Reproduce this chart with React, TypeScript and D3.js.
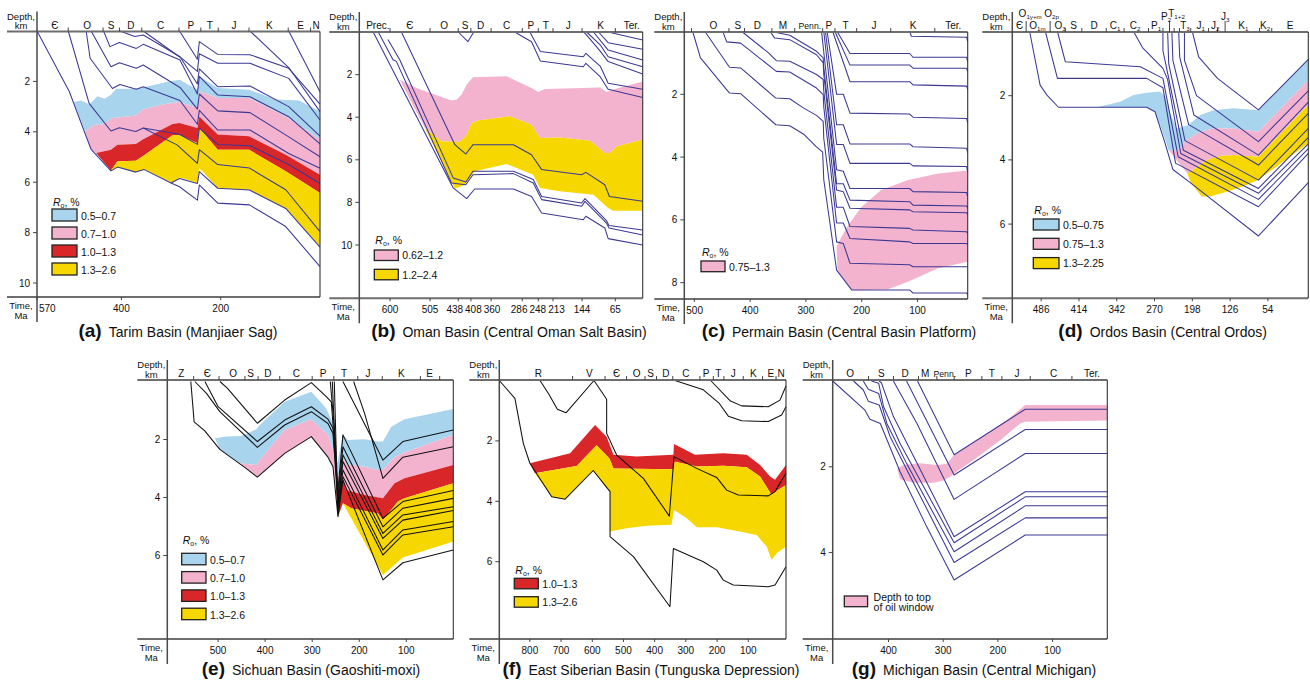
import React from "react";
import * as d3 from "d3";

type Pt = [number, number];

const BLUE = "#a8d4ed";
const PINK = "#f3b3cf";
const RED = "#d92628";
const YELLOW = "#f7d700";
const NAVY = "#3b3993";
const INK = "#111111";
const FONT = "'Liberation Sans', Arial, Helvetica, sans-serif";

// ---------- (a) Tarim Basin ----------
const aPeriods: [string, number, number?][] = [["Є", 534], ["O", 469], ["S", 421], ["D", 381], ["C", 321], ["P", 260], ["T", 222], ["J", 173], ["K", 102], ["E", 39], ["N", 8]];
const aBounds = [507, 437, 404, 359, 284, 240, 205, 143, 64, 19];
const aTimeTicks = [570, 400, 200];
const aDepthTicks = [2, 4, 6, 8, 10];
const aLines: Pt[][] = [
  [[570, 0], [505, 2.4], [461, 4.7], [421, 5.55], [408, 5.4], [371, 5.6], [354, 5.5], [300, 6.03], [283, 6.18], [247, 6.71], [243, 6.11], [206, 6.83], [142, 6.9], [69, 7.76], [0, 9.35]],
  [[300, 6.03], [283, 5.85], [247, 6.05], [243, 5.58], [206, 6.24], [142, 6.31], [69, 7.04], [0, 8.58]],
  [[507, 0], [465, 2.87], [421, 3.97], [404, 3.84], [371, 3.99], [356, 3.85], [288, 4.52], [247, 5.25], [243, 4.71], [206, 5.3], [142, 5.44], [69, 6.3], [0, 7.96]],
  [[356, 3.85], [283, 4.1], [247, 4.5], [243, 3.85], [206, 4.5], [141, 4.55], [63, 5.3], [0, 6.05]],
  [[471, 0], [463, 1.08], [418, 2.28], [403, 2.12], [370, 2.31], [356, 2.21], [282, 2.76], [247, 3.7], [243, 3.15], [206, 3.93], [141, 3.93], [63, 4.86], [0, 5.45]],
  [[461, 0], [421, 1.42], [404, 1.26], [370, 1.48], [356, 1.35], [282, 2.24], [247, 3.1], [243, 2.5], [206, 3.17], [141, 3.24], [63, 4.2], [0, 4.99]],
  [[436, 0], [423, 0.62], [404, 0.46], [370, 0.69], [356, 0.53], [282, 1.15], [247, 2.5], [243, 1.8], [206, 2.54], [141, 2.61], [63, 3.4], [0, 4.48]],
  [[403, 0], [373, 0.22], [356, 0.16], [282, 1.02], [247, 2.1], [243, 1.5], [206, 2.21], [141, 2.18], [63, 3.0], [0, 4.17]],
  [[356, 0], [279, 1.08], [247, 1.6], [243, 0.9], [206, 1.28], [141, 1.28], [63, 1.88], [0, 3.53]],
  [[283, 0], [247, 1.12], [243, 0.42], [206, 0.93], [141, 0.94], [63, 1.48], [0, 2.9]],
  [[141, 0], [63, 1.45], [0, 3.2]],
  [[63, 0], [0, 2.41]],
];
const aEdgeBlueTop: Pt[] = [[496, 2.82], [481, 2.76], [465, 2.92], [448, 2.59], [434, 2.69], [421, 2.53], [411, 2.29], [371, 2.29], [357, 2.24], [304, 2.0], [283, 1.93], [247, 2.33], [243, 1.8], [206, 2.26], [143, 2.33], [89, 2.72], [42, 2.76], [0, 3.19]];
const aEdgeBluePink: Pt[] = [[473, 3.98], [455, 3.72], [438, 3.72], [418, 3.45], [408, 3.43], [371, 3.35], [357, 3.12], [317, 2.92], [283, 2.82], [247, 3.06], [243, 2.39], [206, 2.66], [143, 2.66], [69, 3.39], [0, 4.3]];
const aEdgePinkRed: Pt[] = [[451, 4.84], [421, 4.71], [408, 4.51], [371, 4.48], [357, 4.31], [297, 3.69], [283, 3.65], [247, 3.85], [243, 3.39], [206, 4.11], [143, 4.18], [69, 4.91], [0, 5.7]];
const aEdgeRedYellow: Pt[] = [[421, 5.54], [408, 5.17], [371, 5.15], [354, 4.93], [297, 4.14], [283, 4.14], [247, 4.44], [243, 3.85], [206, 4.71], [143, 4.71], [69, 5.57], [0, 6.43]];
const aEdgeYellowBottom: Pt[] = [[421, 5.57], [408, 5.41], [371, 5.6], [354, 5.5], [298, 6.03], [283, 5.81], [247, 6.03], [243, 5.44], [206, 6.23], [143, 6.31], [69, 7.04], [0, 8.54]];
const aLegend = ["0.5–0.7", "0.7–1.0", "1.0–1.3", "1.3–2.6"];

// ---------- (b) Oman Basin ----------
const bPeriods: [string, number, number?][] = [["Prec.", 629], ["Є", 553], ["O", 471.5], ["S", 422], ["D", 385], ["C", 323], ["P", 265.5], ["T", 230], ["J", 177], ["K", 100], ["Ter.", 26]];
const bBounds = [600, 505, 438, 408, 360, 286, 248, 213, 144, 65];
const bTimeTicks = [600, 505, 438, 408, 360, 286, 248, 213, 144, 65];
const bDepthTicks = [2, 4, 6, 8, 10];
const bLines: Pt[][] = [
  [[640, 0], [450, 7.32], [418, 7.82], [399, 7.37], [307, 7.37], [264, 7.72], [240, 8.5], [141, 8.81], [135, 8.65], [90, 9.2], [82, 9.7], [0, 10.0]],
  [[628, 0], [593, 1.3], [585, 1.38], [454, 7.09], [420, 7.17], [403, 6.7], [307, 6.65], [260, 7.09], [240, 7.87], [145, 8.18], [137, 7.95], [86, 8.97], [80, 9.2], [0, 9.53]],
  [[605, 0.35], [577, 1.3], [450, 6.85], [420, 7.04], [403, 6.54], [307, 6.54], [260, 6.93], [240, 7.72], [145, 8.03], [137, 7.82], [86, 8.86], [80, 9.08], [0, 9.3]],
  [[573, 0], [446, 5.29], [420, 5.73], [403, 5.29], [307, 5.29], [264, 5.76], [240, 6.46], [145, 6.7], [135, 6.59], [90, 7.17], [79, 7.72], [0, 7.95]],
  [[438, 0], [415, 0.45], [401, 0]],
  [[304, 0], [264, 0.46], [243, 1.36], [141, 1.63], [135, 1.47], [101, 2.1], [82, 2.69], [0, 3.07]],
  [[268, 0], [243, 0.92], [141, 1.16], [135, 1.0], [101, 1.6], [82, 2.41], [0, 2.69]],
  [[141, 0], [135, 0.1], [101, 0.9], [82, 1.39], [0, 1.97]],
  [[133, 0], [101, 0.6], [82, 1.16], [0, 1.63]],
  [[117, 0], [82, 0.85], [0, 1.31]],
  [[105, 0], [82, 0.5], [0, 0.81]],
  [[82, 0], [0, 0.38]],
];
const bEdgePinkTop: Pt[] = [[577, 2.24], [533, 2.66], [454, 3.22], [442, 3.18], [430, 2.94], [418, 2.47], [403, 2.13], [323, 2.08], [264, 2.63], [248, 2.82], [232, 2.68], [101, 2.6], [86, 2.82], [70, 2.7], [0, 2.32]];
const bEdgePinkYellow: Pt[] = [[517, 4.51], [478, 5.13], [434, 5.16], [418, 4.82], [406, 4.27], [391, 4.16], [315, 3.96], [264, 4.35], [244, 4.98], [197, 4.95], [125, 5.1], [90, 5.68], [78, 5.68], [62, 5.37], [0, 5.05]];
const bEdgeYellowBottom: Pt[] = [[517, 4.51], [446, 7.36], [422, 7.17], [399, 6.54], [323, 6.2], [260, 6.7], [244, 7.32], [197, 7.48], [117, 7.64], [82, 8.26], [70, 8.39], [0, 8.39]];
const bLegend = ["0.62–1.2", "1.2–2.4"];

// ---------- (c) Permian Basin ----------
const cPeriods: [string, number, number?][] = [["O", 466], ["S", 422], ["D", 387], ["M", 341], ["Penn.", 293], ["P", 259], ["T", 229], ["J", 178], ["K", 108], ["Ter.", 36]];
const cBounds = [505, 438, 410, 361, 320, 270, 248, 209, 148, 69];
const cTimeTicks = [500, 400, 300, 200, 100];
const cDepthTicks = [2, 4, 6, 8];
const cLines: Pt[][] = [
  [[114, 0], [111, 0.15], [12, 0.18], [10, 0.32]],
  [[244, 0], [221, 0.7], [114, 0.7], [108, 0.82], [12, 0.82], [10, 0.96]],
  [[248, 0], [221, 1.07], [114, 1.07], [108, 1.17], [12, 1.17], [10, 1.28]],
  [[252, 0], [221, 1.6], [114, 1.6], [108, 1.7], [12, 1.74], [10, 1.84]],
  [[262, 0], [245, 2.0], [233, 2.0], [221, 2.6], [114, 2.63], [108, 2.73], [12, 2.77], [10, 2.9]],
  [[265, 0], [245, 2.97], [233, 2.97], [221, 3.58], [114, 3.58], [108, 3.67], [12, 3.72], [10, 3.86]],
  [[268, 0], [245, 3.6], [233, 3.6], [221, 4.2], [114, 4.2], [108, 4.28], [12, 4.3], [10, 4.46]],
  [[272, 0], [245, 4.4], [233, 4.45], [221, 5.0], [114, 5.0], [108, 5.1], [12, 5.13], [10, 5.26]],
  [[362, 0], [329, 0.12], [281, 0.63], [269, 0.84], [268, 1.14], [245, 4.85], [233, 4.85], [221, 5.37], [114, 5.42], [108, 5.53], [12, 5.56], [10, 5.63]],
  [[364, 0], [356, 0.21], [329, 0.26], [281, 0.74], [269, 1.0], [268, 1.37], [245, 5.05], [233, 5.1], [221, 5.63], [114, 5.68], [108, 5.74], [12, 5.77], [10, 5.84]],
  [[415, 0], [367, 0.68], [353, 0.93], [329, 0.95], [281, 1.37], [269, 1.53], [268, 1.9], [245, 5.6], [233, 5.6], [221, 6.21], [114, 6.27], [108, 6.32], [12, 6.38], [10, 6.43]],
  [[449, 0], [442, 0.33], [417, 0.37], [353, 1.27], [329, 1.29], [281, 1.8], [269, 2.01], [268, 2.4], [245, 6.1], [233, 6.1], [221, 6.59], [114, 6.7], [108, 6.75], [12, 6.75], [10, 6.8]],
  [[481, 0], [437, 1.14], [417, 1.16], [354, 2.12], [329, 2.14], [304, 2.44], [281, 2.67], [269, 2.86], [268, 3.4], [245, 6.7], [233, 6.75], [221, 7.38], [114, 7.43], [108, 7.49], [12, 7.49], [10, 7.5]],
  [[503, 0], [489, 0.84], [437, 1.96], [417, 1.98], [354, 2.97], [329, 3.0], [304, 3.27], [282, 3.66], [270, 3.84], [268, 4.72], [245, 7.6], [218, 8.23], [114, 8.23], [108, 8.33], [12, 8.33], [10, 8.39]],
];
const cPinkTop: Pt[] = [[245, 6.85], [233, 6.43], [224, 6.16], [200, 5.58], [165, 5.05], [117, 4.73], [63, 4.52], [10, 4.43]];
const cPinkBottom: Pt[] = [[245, 6.85], [243.5, 7.6], [218, 8.23], [153, 8.21], [117, 7.97], [63, 7.54], [10, 7.33]];
const cLegend = ["0.75–1.3"];

// ---------- (d) Ordos Basin ----------
const dPeriods: [string, number, number?][] = [["Є", 527], ["O_1y+m", 507, 1], ["O_1m", 493], ["O_2p", 466, 1], ["O_3", 450], ["S", 424], ["D", 385], ["C_1", 345], ["C_2", 307], ["P_1", 267], ["P_2", 248, 2], ["T_1+2", 228, 1], ["T_3", 212], ["J_1", 182], ["J_2", 154.5], ["J_3", 135.5, 2], ["K_1", 100.6], ["K_2", 59.3], ["E", 11.6]];
const dBounds = [440, 408.5, 362, 328, 281.5, 254, 232.6, 222.5, 201, 167, 150, 70, 46.6];
const dTallBounds = [514.6, 468.9, 241.5, 135.5];
const dTimeTicks = [486, 414, 342, 270, 198, 126, 54];
const dDepthTicks = [2, 4, 6];
const dLines: Pt[][] = [
  [[198, 0], [186, 0.79], [150, 1.46], [72, 2.44], [-23, 0.87]],
  [[213, 0], [213, 0.9], [190, 2.0], [72, 3.43], [-23, 1.85]],
  [[224, 0], [222, 0.8], [195, 2.6], [72, 3.85], [-23, 2.2]],
  [[237, 0], [235, 0.9], [205, 2.9], [72, 4.16], [-23, 2.55]],
  [[245, 0], [243, 1.0], [212, 3.4], [72, 4.63], [-23, 3.02]],
  [[254, 0], [254, 0.6], [245, 1.3], [215, 3.7], [72, 4.89], [-23, 3.3]],
  [[310, 0], [293, 0.5], [254, 1.15], [245, 1.5], [220, 3.8], [72, 5.04], [-23, 3.5]],
  [[455, 0], [440, 0.94], [297, 1.1], [254, 1.46], [225, 3.9], [72, 5.23], [-23, 3.65]],
  [[478, 0], [455, 1.46], [285, 1.46], [254, 1.75], [230, 4.1], [72, 5.46], [-23, 3.8]],
  [[508, 0], [488, 1.67], [475, 1.98], [453, 2.36], [285, 2.36], [269, 2.5], [250, 3.48], [235, 4.3], [202, 4.71], [72, 6.37], [-23, 4.71]],
];
const dBlueTop: Pt[] = [[380, 2.36], [335.5, 2.19], [310, 1.98], [284.7, 1.91], [259.3, 1.87], [249.8, 2.03], [240, 2.55], [227.6, 3.02], [205.3, 2.91], [183, 2.6], [157.7, 2.45], [119.6, 2.39], [72, 2.45], [-23, 0.87]];
const dBlueBottom: Pt[] = [[380, 2.36], [284.7, 2.36], [268.8, 2.5], [256, 3.07], [243.4, 3.69], [227.6, 3.74], [208.5, 3.38], [183, 3.12], [157.7, 3.02], [119.6, 3.02], [72, 3.12], [-23, 1.51]];
const dPinkBottom: Pt[] = [[243.4, 3.69], [207.2, 4.42], [195.8, 4.31], [170.4, 4.0], [145, 3.88], [119.6, 3.85], [72, 3.9], [-23, 2.29]];
const dYellowBottom: Pt[] = [[207.2, 4.42], [200.9, 4.71], [180, 5.14], [164, 5.14], [132.3, 4.99], [94.2, 4.78], [72, 4.62], [-23, 3.48]];
const dLegend = ["0.5–0.75", "0.75–1.3", "1.3–2.25"];

// ---------- (e) Sichuan Basin ----------
const ePeriods: [string, number, number?][] = [["Z", 578], ["Є", 523], ["O", 468], ["S", 431], ["D", 394], ["C", 333.5], ["P", 277], ["T", 232.5], ["J", 181.5], ["K", 110.6], ["E", 50.5]];
const eBounds = [552, 498, 443, 415, 369, 300, 254, 203, 151, 70, 29];
const eTimeTicks = [500, 400, 300, 200, 100];
const eDepthTicks = [2, 4, 6];
const eLines: Pt[][] = [
  [[496, 0], [480, 0.24], [416.5, 1.44], [358.4, 0.64], [301.8, 0.04], [270, 0.52], [259.4, 0.7], [245.2, 3.74], [234.6, 1.84], [149.6, 4.72], [107.2, 4.14], [0, 3.76]],
  [[528, 0], [500, 0.87], [416.5, 2.07], [358.4, 1.33], [301.8, 0.87], [266.4, 1.3], [255.8, 1.61], [245.2, 3.97], [234.6, 2.25], [149.6, 5.01], [107.2, 4.37], [0, 4.03]],
  [[549.5, 0], [524.7, 0.41], [496.4, 1.04], [416.5, 2.27], [358.4, 1.5], [301.8, 1.04], [266.4, 1.45], [255.8, 1.79], [245.2, 4.2], [234.6, 2.53], [149.6, 5.24], [107.2, 4.6], [0, 4.32]],
  [[558, 0], [551, 1.39], [528.3, 1.7], [496.4, 2.34], [443.4, 2.96], [416.5, 3.3], [358.4, 2.48], [301.8, 1.9], [266.4, 2.61], [255.8, 2.94], [245.2, 4.66], [234.6, 3.4], [149.6, 6.84], [107.2, 6.25], [0, 5.81]],
  [[261.5, 0], [250.9, 2.0], [245.2, 4.3], [234.6, 2.76], [149.6, 5.41], [107.2, 4.78], [0, 4.45]],
  [[257.2, 0], [245.2, 4.5], [234.6, 3.05], [149.6, 5.81], [107.2, 5.12], [0, 4.83]],
  [[253, 0], [245.2, 4.55], [234.6, 3.28], [149.6, 5.98], [107.2, 5.29], [0, 5.01]],
  [[234.6, 0], [149.6, 2.71], [107.2, 2.07], [0, 1.67]],
  [[211.9, 0], [188.6, 1.1], [149.6, 3.34], [107.2, 2.61], [0, 2.25]],
];
const eBlueTop: Pt[] = [[507, 1.96], [482.3, 1.9], [450.4, 1.88], [418.6, 1.65], [411.5, 1.5], [358.4, 0.7], [301.8, 0.35], [270, 0.93], [255.8, 1.44], [246.6, 2.82], [234.6, 1.84], [224, 2.02], [188.6, 1.99], [160.3, 2.07], [149.6, 2.07], [132, 1.56], [103.7, 1.3], [0, 0.95]];
const eBluePink: Pt[] = [[454, 2.82], [418.6, 2.88], [408, 2.65], [358.4, 1.67], [301.8, 1.3], [266.4, 1.84], [255.8, 2.36], [246.6, 3.4], [234.6, 2.59], [227.5, 2.85], [188.6, 2.94], [160.3, 3.05], [149.6, 3.05], [124.9, 2.61], [103.7, 2.45], [0, 1.84]];
const ePinkRed: Pt[] = [[248.7, 3.86], [234.6, 3.34], [227.5, 3.74], [188.6, 3.91], [149.6, 4.03], [124.9, 3.51], [103.7, 3.34], [0, 2.88]];
const eRedYellow: Pt[] = [[234.6, 4.2], [216.9, 4.37], [160.3, 4.55], [149.6, 4.78], [117.8, 4.14], [103.7, 4.03], [0, 3.51]];
const eYellowBottom: Pt[] = [[234.6, 4.2], [149.6, 6.67], [107.2, 6.07], [0, 5.52]];
const ePinkLeftBottom: Pt[] = [[454, 2.82], [443.4, 2.96], [416.5, 3.3], [358.4, 2.48], [301.8, 1.9], [266.4, 2.61], [255.8, 2.94]];
const eLegend = ["0.5–0.7", "0.7–1.0", "1.0–1.3", "1.3–2.6"];

// ---------- (f) East Siberian Basin ----------
const fPeriods: [string, number, number?][] = [["R", 773], ["V", 609], ["Є", 522], ["O", 458], ["S", 413], ["D", 364], ["C", 300], ["P", 235.5], ["T", 196], ["J", 148], ["K", 84], ["E", 28], ["N", -5]];
const fBounds = [663, 559, 490, 431, 394, 342, 255, 212, 178, 116, 54, 11];
const fTimeTicks = [800, 700, 600, 500, 400, 300, 200, 100];
const fDepthTicks = [2, 4, 6];
const fLines: Pt[][] = [
  [[898, 0], [848, 0.59], [821, 2.08], [800, 2.74], [730, 3.85], [687, 3.93], [597, 2.98], [543, 3.68], [543, 5.17], [468, 5.83], [351, 7.49], [340, 5.56], [244, 6.0], [201, 6.28], [180, 6.61], [148, 6.77], [36, 6.83], [14, 6.77], [-21, 6.17]],
  [[767.5, 0], [737.6, 0.48], [712, 0.95], [684.2, 1.07], [594.5, 0], [553.9, 0.62], [553.9, 1.75], [521.8, 2.47], [436.3, 3.24], [353, 4.49], [338, 2.52], [265.4, 2.91], [201.3, 3.21], [169.2, 3.63], [131.9, 3.79], [35.7, 3.82], [14.3, 3.68], [-21, 3.07]],
  [[334.8, 0], [244, 0.31], [192.7, 0.76], [163.9, 1.18], [121.2, 1.33], [35.7, 1.36], [-7, 1.14], [-21, 0.87]],
  [[220.5, 0], [158.6, 0.67], [121.2, 0.84], [35.7, 0.87], [-1.7, 0.65], [-21, 0.18]],
];
const fRedTop: Pt[] = [[800, 2.74], [671, 2.41], [591, 1.47], [554, 1.86], [532, 2.46], [458, 2.52], [340, 2.46], [338, 2.1], [271, 2.46], [180, 2.41], [105, 2.46], [62, 2.8], [30, 3.18], [14, 3.29], [-21, 2.8]];
const fRedYellow: Pt[] = [[784, 3.07], [650, 2.83], [586, 2.14], [545, 2.58], [532, 2.91], [340, 2.94], [335, 2.69], [265, 2.85], [180, 2.82], [105, 2.87], [62, 3.18], [25, 3.79], [14, 3.68], [-21, 3.46]];
const fYellowBottom: Pt[] = [[784, 3.07], [730, 3.85], [687, 3.93], [597, 2.98], [554, 3.57], [543, 3.68], [543, 5.0], [490, 4.89], [426, 4.81], [346, 4.78], [338, 4.29], [297, 4.56], [265, 4.86], [201, 4.86], [127, 5.0], [73, 5.12], [41, 5.5], [25, 5.94], [9, 5.72], [-21, 5.5]];
const fLegend = ["1.0–1.3", "1.3–2.6"];

// ---------- (g) Michigan Basin ----------
const gPeriods: [string, number, number?][] = [["O", 470], ["S", 413], ["D", 369.5], ["M", 333], ["Penn.", 297], ["P", 254], ["T", 211], ["J", 165], ["C", 98], ["Ter.", 28]];
const gBounds = [436.6, 390.9, 345.2, 311.6, 279.9, 229.3, 192.7, 140.9, 64.7];
const gTimeTicks = [400, 300, 200, 100];
const gDepthTicks = [2, 4];
const gLines: Pt[][] = [
  [[502, 0], [443, 0.68], [434, 0.89], [415, 0.99], [379, 2.11], [330, 3.4], [280, 4.64], [150, 3.59], [0, 3.59]],
  [[464, 0], [446, 0.21], [437, 0.47], [417, 0.56], [397, 1.3], [360, 2.23], [280, 4.23], [150, 3.19], [0, 3.19]],
  [[446, 0], [437, 0.19], [418, 0.29], [403, 0.99], [367, 1.92], [280, 3.98], [150, 2.91], [0, 2.91]],
  [[431, 0], [418, 0.05], [409, 0.6], [379, 1.45], [280, 3.77], [150, 2.7], [0, 2.7]],
  [[417, 0], [413, 0.04], [391, 0.83], [354, 1.76], [280, 3.63], [150, 2.58], [0, 2.58]],
  [[391, 0], [348, 0.99], [280, 2.76], [150, 1.69], [0, 1.69]],
  [[367, 0], [280, 2.19], [150, 1.13], [0, 1.13]],
  [[347, 0], [280, 1.72], [150, 0.66], [0, 0.66]],
];
const gPinkTop: Pt[] = [[383.6, 2.04], [372.6, 1.96], [342.1, 1.92], [311.6, 1.96], [293.3, 1.93], [279.9, 1.72], [256.8, 1.53], [220.2, 1.22], [183.6, 0.91], [150, 0.56], [0, 0.56]];
const gPinkBottom: Pt[] = [[383.6, 2.07], [378.7, 2.29], [354.3, 2.37], [317.7, 2.37], [299.4, 2.32], [287.2, 2.23], [275, 2.11], [244.6, 1.84], [195.8, 1.38], [159.2, 0.99], [150, 0.95], [0, 0.92]];
const gLegend = ["Depth to top\nof oil window"];

interface Band { color: string; top: Pt[]; bottom: Pt[] }
interface Legend { x: number; y: number; w: number; h: number; gap: number; ty?: number; items: [string, string][] }
interface PanelCfg {
  letter: string; title: string; titleX: number; titleY: number;
  x0: number; x1: number; top: number; y0: number; y1: number; kmPx: number; t0: number; t1: number;
  periods: [string, number, number?][]; bounds: number[]; tall?: number[];
  timeTicks: number[]; depthTicks: number[];
  lines: Pt[][]; lineColor: string; bands: Band[]; legend: Legend;
}

const panels: PanelCfg[] = [
  {
    letter: "a", title: "Tarim Basin (Manjiaer Sag)", titleX: 178, titleY: 336.5,
    x0: 37, x1: 320, top: 31.5, y0: 31, y1: 297, kmPx: 25.2, t0: 570, t1: 0,
    periods: aPeriods, bounds: aBounds, timeTicks: aTimeTicks, depthTicks: aDepthTicks,
    lines: aLines, lineColor: NAVY,
    bands: [
      { color: BLUE, top: aEdgeBlueTop, bottom: [[496, 2.82], ...aEdgeBluePink] },
      { color: PINK, top: aEdgeBluePink, bottom: [[473, 3.98], [461, 4.71], ...aEdgePinkRed] },
      { color: RED, top: aEdgePinkRed, bottom: [[451, 4.84], ...aEdgeRedYellow] },
      { color: YELLOW, top: aEdgeRedYellow, bottom: aEdgeYellowBottom },
    ],
    legend: { x: 52, y: 209, w: 25, h: 12, gap: 18, ty: 205.5, items: [[BLUE, aLegend[0]], [PINK, aLegend[1]], [RED, aLegend[2]], [YELLOW, aLegend[3]]] },
  },
  {
    letter: "b", title: "Oman Basin (Central Oman Salt Basin)", titleX: 509, titleY: 336.5,
    x0: 359.3, x1: 642.7, top: 32, y0: 32, y1: 298.3, kmPx: 21.3, t0: 673, t1: 0,
    periods: bPeriods, bounds: bBounds, timeTicks: bTimeTicks, depthTicks: bDepthTicks,
    lines: bLines, lineColor: NAVY,
    bands: [
      { color: PINK, top: bEdgePinkTop, bottom: [[577, 2.24], ...bEdgePinkYellow] },
      { color: YELLOW, top: bEdgePinkYellow, bottom: bEdgeYellowBottom },
    ],
    legend: { x: 374.3, y: 250, w: 24, h: 10.5, gap: 19.3, ty: 244, items: [[PINK, bLegend[0]], [YELLOW, bLegend[1]]] },
  },
  {
    letter: "c", title: "Permain Basin (Central Basin Platform)", titleX: 839, titleY: 336.5,
    x0: 684.3, x1: 967.7, top: 32, y0: 31.5, y1: 299, kmPx: 31.4, t0: 518, t1: 10,
    periods: cPeriods, bounds: cBounds, timeTicks: cTimeTicks, depthTicks: cDepthTicks,
    lines: cLines, lineColor: NAVY,
    bands: [{ color: PINK, top: cPinkTop, bottom: cPinkBottom }],
    legend: { x: 701, y: 261, w: 24, h: 10.7, gap: 19, ty: 255.5, items: [[PINK, cLegend[0]]] },
  },
  {
    letter: "d", title: "Ordos Basin (Central Ordos)", titleX: 1162.7, titleY: 336.5,
    x0: 1012.3, x1: 1308.3, top: 32, y0: 31.5, y1: 298.3, kmPx: 32.1, t0: 541, t1: -23,
    periods: dPeriods, bounds: dBounds, tall: dTallBounds, timeTicks: dTimeTicks, depthTicks: dDepthTicks,
    lines: dLines, lineColor: NAVY,
    bands: [
      { color: BLUE, top: dBlueTop, bottom: dBlueBottom },
      { color: PINK, top: dBlueBottom.slice(4), bottom: dPinkBottom },
      { color: YELLOW, top: dPinkBottom.slice(1), bottom: dYellowBottom },
    ],
    legend: { x: 1033.3, y: 219, w: 25.7, h: 11, gap: 19.3, ty: 213.7, items: [[BLUE, dLegend[0]], [PINK, dLegend[1]], [YELLOW, dLegend[2]]] },
  },
  {
    letter: "e", title: "Sichuan Basin (Gaoshiti-moxi)", titleX: 311, titleY: 675,
    x0: 167.3, x1: 453.3, top: 380, y0: 381.5, y1: 639, kmPx: 29, t0: 608, t1: 0,
    periods: ePeriods, bounds: eBounds, timeTicks: eTimeTicks, depthTicks: eDepthTicks,
    lines: eLines, lineColor: INK,
    bands: [
      { color: BLUE, top: eBlueTop, bottom: [[507, 1.96], [496.4, 2.34], ...eBluePink] },
      { color: PINK, top: eBluePink, bottom: [...ePinkLeftBottom, ...ePinkRed] },
      { color: RED, top: ePinkRed, bottom: [[248.7, 3.86], [245.2, 4.66], ...eRedYellow] },
      { color: YELLOW, top: eRedYellow, bottom: eYellowBottom },
    ],
    legend: { x: 181.7, y: 553.3, w: 24.3, h: 11.5, gap: 18.3, ty: 543.7, items: [[BLUE, eLegend[0]], [PINK, eLegend[1]], [RED, eLegend[2]], [YELLOW, eLegend[3]]] },
  },
  {
    letter: "f", title: "East Siberian Basin (Tunguska Depression)", titleX: 651, titleY: 675,
    x0: 499.3, x1: 786, top: 380, y0: 380.5, y1: 639, kmPx: 30.2, t0: 898, t1: -21,
    periods: fPeriods, bounds: fBounds, timeTicks: fTimeTicks, depthTicks: fDepthTicks,
    lines: fLines, lineColor: INK,
    bands: [
      { color: RED, top: fRedTop, bottom: [[800, 2.74], ...fRedYellow] },
      { color: YELLOW, top: fRedYellow, bottom: fYellowBottom },
    ],
    legend: { x: 514.3, y: 578.3, w: 24, h: 10.5, gap: 18.4, ty: 573.7, items: [[RED, fLegend[0]], [YELLOW, fLegend[1]]] },
  },
  {
    letter: "g", title: "Michigan Basin (Central Michigan)", titleX: 974, titleY: 675,
    x0: 832.7, x1: 1107.3, top: 380, y0: 381, y1: 639, kmPx: 42.9, t0: 502, t1: 0,
    periods: gPeriods, bounds: gBounds, timeTicks: gTimeTicks, depthTicks: gDepthTicks,
    lines: gLines, lineColor: NAVY,
    bands: [{ color: PINK, top: gPinkTop, bottom: gPinkBottom }],
    legend: { x: 844.3, y: 596, w: 23.3, h: 10.7, gap: 18, items: [[PINK, gLegend[0]]] },
  },
];

function Label({ s, x, y, fs }: { s: string; x: number; y: number; fs: number }) {
  const [base, sub] = s.split("_");
  return (
    <text x={x} y={y} textAnchor="middle" fontSize={fs}>
      {base}
      {sub && <tspan fontSize={fs * 0.62} dy={2}>{sub}</tspan>}
    </text>
  );
}

// push apart overlapping tick labels
function spreadLabels(xs: number[], texts: string[], fs: number, minX: number) {
  const items = xs.map((x, i) => ({ x, w: texts[i].length * fs * 0.556 }));
  for (let it = 0; it < 30; it++) {
    for (let i = 0; i < items.length - 1; i++) {
      const a = items[i], b = items[i + 1];
      const gap = (b.x - b.w / 2) - (a.x + a.w / 2);
      if (gap < 2) { const d = (2 - gap) / 2; a.x -= d; b.x += d; }
    }
    if (items.length) items[0].x = Math.max(items[0].x, minX + items[0].w / 2 + 2);
  }
  return items.map(d => d.x);
}

function Panel({ cfg }: { cfg: PanelCfg }) {
  const xs = d3.scaleLinear().domain([cfg.t0, cfg.t1]).range([cfg.x0, cfg.x1]);
  const ys = d3.scaleLinear().domain([0, 1]).range([cfg.y0, cfg.y0 + cfg.kmPx]);
  const line = d3.line<Pt>().x(p => xs(p[0])).y(p => ys(p[1]));
  const bandPath = (b: Band) => line([...b.top, ...b.bottom.slice().reverse()]) + "Z";
  const tickTexts = cfg.timeTicks.map(String);
  const tickX = spreadLabels(cfg.timeTicks.map(t => xs(t)), tickTexts, 10, cfg.x0);
  const axisL = cfg.x0 - 30;
  const lg = cfg.legend;

  return (
    <g>
      {cfg.bands.map((b, i) => <path key={"b" + i} d={bandPath(b)} fill={b.color} stroke="none" />)}
      {cfg.lines.map((l, i) => (
        <path key={"l" + i} d={line(l) || ""} fill="none" stroke={cfg.lineColor} strokeWidth={1.05} strokeLinejoin="round" />
      ))}

      {/* frame */}
      <line x1={axisL} x2={cfg.x1} y1={cfg.top} y2={cfg.top} stroke="#6e6e6e" strokeWidth={2} />
      <line x1={axisL} x2={cfg.x1} y1={cfg.y1} y2={cfg.y1} stroke="#6e6e6e" strokeWidth={2} />
      <line x1={cfg.x0} x2={cfg.x0} y1={cfg.top - 20} y2={cfg.y1 + 25} stroke="#4a4a4a" strokeWidth={1.5} />
      <line x1={cfg.x1} x2={cfg.x1} y1={cfg.top} y2={cfg.y1} stroke="#333" strokeWidth={1.1} />

      {/* period boundaries and names */}
      {cfg.bounds.map((t, i) => (
        <line key={"pb" + i} x1={xs(t)} x2={xs(t)} y1={cfg.top - 4} y2={cfg.top} stroke="#444" strokeWidth={1} />
      ))}
      {(cfg.tall || []).map((t, i) => (
        <line key={"pt" + i} x1={xs(t)} x2={xs(t)} y1={cfg.top - 11} y2={cfg.top} stroke="#444" strokeWidth={1} />
      ))}
      {cfg.periods.map(([s, t, row], i) => (
        <Label key={"pl" + i} s={s} x={xs(t)} y={cfg.top - (row === 1 ? 15.5 : row === 2 ? 12 : 2.8)} fs={s === "Penn." ? 8.7 : 10} />
      ))}

      {/* axis titles */}
      <text x={cfg.x0 - 16} y={cfg.top - 12} textAnchor="middle" fontSize={9.5}>Depth,</text>
      <text x={cfg.x0 - 16} y={cfg.top - 2.5} textAnchor="middle" fontSize={9.5}>km</text>
      <text x={cfg.x0 - 16} y={cfg.y1 + 12} textAnchor="middle" fontSize={9.5}>Time,</text>
      <text x={cfg.x0 - 16} y={cfg.y1 + 21.5} textAnchor="middle" fontSize={9.5}>Ma</text>

      {/* depth ticks */}
      {cfg.depthTicks.map(d => (
        <g key={"d" + d}>
          <line x1={cfg.x0 - 4} x2={cfg.x0} y1={ys(d)} y2={ys(d)} stroke="#444" strokeWidth={1} />
          <text x={cfg.x0 - 7} y={ys(d)} dy="0.35em" textAnchor="end" fontSize={10}>{d}</text>
        </g>
      ))}

      {/* time ticks */}
      {cfg.timeTicks.map((t, i) => (
        <g key={"t" + t}>
          <line x1={xs(t)} x2={xs(t)} y1={cfg.y1} y2={cfg.y1 + 3} stroke="#444" strokeWidth={1} />
          <text x={tickX[i]} y={cfg.y1 + 15} textAnchor="middle" fontSize={10}>{tickTexts[i]}</text>
        </g>
      ))}

      {/* legend */}
      {lg.ty !== undefined && (
        <text x={lg.x + 1} y={lg.ty} fontSize={10.5}>
          <tspan fontStyle="italic">R</tspan>
          <tspan fontSize={7} dy={2}>o</tspan>
          <tspan dy={-2}>, %</tspan>
        </text>
      )}
      {lg.items.map(([color, label], i) => {
        const by = lg.y + i * lg.gap;
        const parts = label.split("\n");
        return (
          <g key={"lg" + i}>
            <rect x={lg.x} y={by} width={lg.w} height={lg.h} fill={color} stroke="#222" strokeWidth={1.3} />
            {parts.length === 1 ? (
              <text x={lg.x + lg.w + 4} y={by + lg.h - 1.2} fontSize={10.5}>{label}</text>
            ) : (
              parts.map((p, j) => (
                <text key={j} x={lg.x + lg.w + 6} y={by + 4.5 + j * 10} fontSize={10.5}>{p}</text>
              ))
            )}
          </g>
        );
      })}

      {/* title */}
      <text x={cfg.titleX} y={cfg.titleY} textAnchor="middle">
        <tspan fontWeight="bold" fontSize={19}>({cfg.letter})</tspan>
        <tspan fontSize={14} dx={7}>{cfg.title}</tspan>
      </text>
    </g>
  );
}

export default function App() {
  return (
    <svg
      width={1310}
      height={684}
      viewBox="0 0 1310 684"
      style={{ position: "absolute", left: 0, top: 0, background: "#fff" }}
      fontFamily={FONT}
      fill="#111"
    >
      <rect x={0} y={0} width={1310} height={684} fill="#fff" />
      {panels.map(p => <Panel key={p.letter} cfg={p} />)}
    </svg>
  );
}
